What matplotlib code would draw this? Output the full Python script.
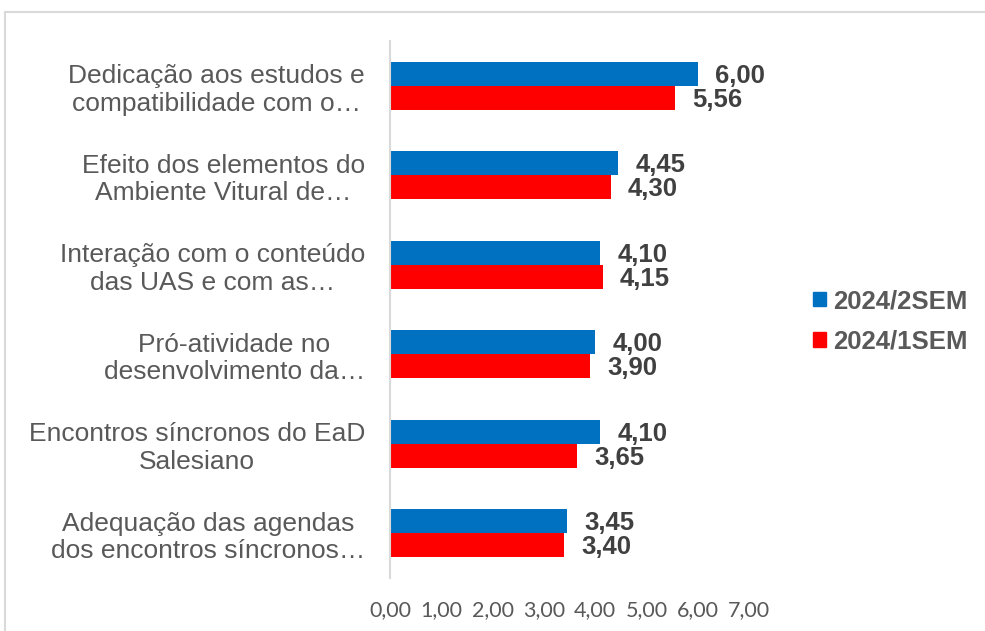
import matplotlib
matplotlib.use("Agg")
import matplotlib.pyplot as plt
from matplotlib.patches import Patch, Rectangle
import numpy as np

categories = [
    "Dedicação aos estudos e\ncompatibilidade com o…",
    "Efeito dos elementos do\nAmbiente Vitural de…",
    "Interação com o conteúdo\ndas UAS e com as…",
    "Pró-atividade no\ndesenvolvimento da…",
    "Encontros síncronos do EaD\nSalesiano",
    "Adequação das agendas\ndos encontros síncronos…",
]
series_names = ["2024/2SEM", "2024/1SEM"]
sem2 = [6.00, 4.45, 4.10, 4.00, 4.10, 3.45]
sem1 = [5.56, 4.30, 4.15, 3.90, 3.65, 3.40]
xticks = [0, 1, 2, 3, 4, 5, 6, 7]
xtick_labels = ["0,00", "1,00", "2,00", "3,00", "4,00", "5,00", "6,00", "7,00"]

BLUE = "#0070C0"
RED = "#FF0000"
W, H = 985, 631

fig = plt.figure(figsize=(W / 100, H / 100), dpi=100)
ax = fig.add_axes([390 / W, 1 - 578 / H, (749 - 390) / W, (578 - 41) / H])

y = np.arange(len(categories))
h = 24 / 89.5
ax.barh(y - h / 2, sem2, height=h, color=BLUE, label=series_names[0])
ax.barh(y + h / 2, sem1, height=h, color=RED, label=series_names[1])

for yi, v in zip(y - h / 2, sem2):
    ax.annotate(f"{v:.2f}".replace(".", ","), (v, yi), xytext=(17, -2),
                textcoords="offset pixels", ha="left", va="center",
                fontsize=18.5, fontweight="bold", color="#404040",
                family="Liberation Sans")
for yi, v in zip(y + h / 2, sem1):
    ax.annotate(f"{v:.2f}".replace(".", ","), (v, yi), xytext=(17, -2),
                textcoords="offset pixels", ha="left", va="center",
                fontsize=18.5, fontweight="bold", color="#404040",
                family="Liberation Sans")

ax.set_xlim(0, 7)
ax.set_ylim(len(categories) - 0.5, -0.5)
ax.set_yticks(y)
ax.set_yticklabels(categories, fontsize=19, color="#595959",
                   family="Liberation Sans", multialignment="center",
                   linespacing=1.18)
ax.set_xticks(xticks)
ax.set_xticklabels(xtick_labels, fontsize=15.5, color="#595959", family="Lato")
ax.tick_params(axis="y", length=0, pad=18)
ax.tick_params(axis="x", length=0, pad=16)

for s in ["top", "right", "bottom"]:
    ax.spines[s].set_visible(False)
ax.spines["left"].set_color("#D9D9D9")
ax.spines["left"].set_linewidth(1.5)

handles = [Patch(color=BLUE), Patch(color=RED)]
leg = fig.legend(handles, series_names, loc="center left",
                 bbox_to_anchor=(813 / W, 1 - 321.5 / H),
                 frameon=False, borderpad=0, borderaxespad=0,
                 handlelength=0.5, handleheight=0.5, handletextpad=0.27,
                 labelspacing=0.65,
                 prop={"family": "Liberation Sans", "weight": "bold", "size": 18.5})
for t in leg.get_texts():
    t.set_color("#595959")

fig.add_artist(Rectangle((5 / W, -0.1), 2, (1 - 12 / H) + 0.1,
                         transform=fig.transFigure, fill=False,
                         edgecolor="#D9D9D9", linewidth=1.5))

fig.savefig("out.png", dpi=100)
